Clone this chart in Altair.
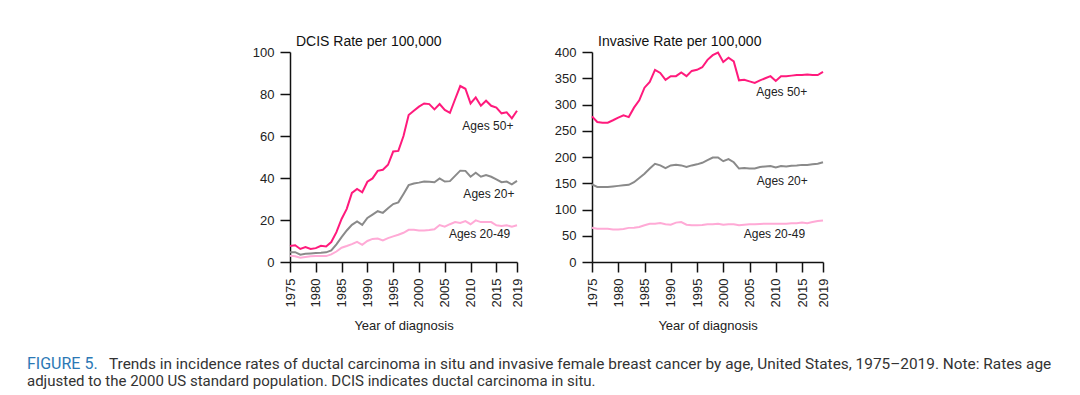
import altair as alt
import pandas as pd

years = list(range(1975, 2020))
groups = ["Ages 20-49", "Ages 20+", "Ages 50+"]

dcis_50 = [7.6, 8.0, 6.2, 7.1, 6.2, 6.6, 7.7, 7.4, 9.5, 14.2,
           20.5, 25.3, 32.9, 34.8, 33.2, 38.2, 39.8, 43.4, 43.9, 46.3,
           52.6, 52.9, 60.0, 70.0, 72.0, 74.0, 75.5, 75.2, 72.7, 75.2,
           72.4, 71.0, 77.5, 83.8, 82.5, 75.5, 78.4, 74.4, 76.8, 74.4,
           73.5, 70.8, 71.3, 68.4, 72.0]
dcis_20 = [4.7, 4.7, 3.5, 3.9, 4.1, 4.3, 4.4, 4.6, 5.5, 8.4,
           11.8, 15.0, 17.7, 19.3, 17.7, 21.0, 22.6, 24.2, 23.4, 25.6,
           27.6, 28.4, 32.4, 36.6, 37.4, 37.8, 38.3, 38.2, 38.0, 39.8,
           38.3, 38.5, 41.0, 43.5, 43.4, 40.6, 42.5, 40.6, 41.4, 40.6,
           39.4, 38.0, 38.3, 37.0, 38.6]
dcis_2049 = [3.0, 2.7, 2.0, 2.4, 2.7, 2.8, 2.8, 2.8, 3.6, 5.0,
             6.8, 7.6, 8.5, 9.6, 8.2, 10.0, 11.0, 11.2, 10.3, 11.4,
             12.2, 13.0, 13.9, 15.3, 15.3, 15.0, 15.0, 15.2, 15.6, 17.6,
             16.8, 18.0, 19.0, 18.6, 19.5, 18.0, 19.8, 19.0, 19.0, 19.0,
             17.5, 17.2, 17.5, 16.8, 17.5]

inv_50 = [277.5, 266.7, 265.4, 265.4, 270, 275, 279.4, 276, 294, 308,
          332, 343, 366, 360, 347, 354, 354, 361, 354, 364,
          366, 371, 385, 394, 399, 381, 389, 382, 346, 347,
          344, 341, 346, 350, 354, 345, 354, 354, 355, 356,
          356, 357, 356, 356, 362]
inv_20 = [148, 143, 143, 143, 144, 145, 146, 147, 152, 160,
          168, 178, 187, 184, 179, 184, 185, 184, 181, 184,
          186, 189, 194, 199, 199, 192, 196, 190, 178, 179,
          178, 178, 181, 182, 183, 180, 183, 182, 183.5, 184,
          185, 185, 186, 187, 190]
inv_2049 = [65.4, 63.5, 63.5, 63.5, 62, 62, 63, 65, 65.4, 66.7,
            70, 73, 73, 74.3, 72, 71, 75, 76, 71, 70,
            70, 70.5, 72, 72, 73, 71, 72, 72, 70, 71,
            72, 72, 72.5, 73, 73, 73, 73, 73, 74, 74,
            75, 74, 76, 78, 79]

x_ticks = [1975, 1980, 1985, 1990, 1995, 2000, 2005, 2010, 2015, 2019]
dcis_ticks = [0, 20, 40, 60, 80, 100]
inv_ticks = [0, 50, 100, 150, 200, 250, 300, 350, 400]

dcis_title = "DCIS Rate per 100,000"
inv_title = "Invasive Rate per 100,000"
x_title = "Year of diagnosis"

# label annotations: text, year, value
dcis_lab_text = ["Ages 50+", "Ages 20+", "Ages 20-49"]
dcis_lab_x = [2018.3, 2018.5, 2017.7]
dcis_lab_y = [64.8, 32.4, 13.3]
inv_lab_text = ["Ages 50+", "Ages 20+", "Ages 20-49"]
inv_lab_x = [2016.0, 2016.1, 2015.6]
inv_lab_y = [324, 155, 53]

caption_head = "FIGURE 5."
caption_line1 = ("Trends in incidence rates of ductal carcinoma in situ and invasive female breast cancer "
                 "by age, United States, 1975\u20132019. Note: Rates age")
caption_line2 = "adjusted to the 2000 US standard population. DCIS indicates ductal carcinoma in situ."

colors = ["#ffaad6", "#8a8a8a", "#ff1a7c"]
FONT = "Liberation Sans"


def long_df(s2049, s20, s50):
    rows = []
    for g, s in zip(groups, [s2049, s20, s50]):
        for y, v in zip(years, s):
            rows.append({"year": y, "rate": v, "group": g})
    return pd.DataFrame(rows)


def panel(df, ymax, yticks, title, lt, lx, ly, width):
    xscale = alt.Scale(domain=[1975, 2019], nice=False, zero=False)
    yscale = alt.Scale(domain=[0, ymax], nice=False)
    xaxis = alt.Axis(values=x_ticks, format="d", labelAngle=270,
                     labelOverlap=False, labelFlush=False, labelBound=False,
                     title=x_title, labelPadding=6, titlePadding=13)
    yaxis = alt.Axis(values=yticks, title=None, labelPadding=6,
                     labelOverlap=False, labelFlush=False)
    lines = alt.Chart(df).mark_line(strokeWidth=2).encode(
        x=alt.X("year:Q", scale=xscale, axis=xaxis),
        y=alt.Y("rate:Q", scale=yscale, axis=yaxis),
        color=alt.Color("group:N", scale=alt.Scale(domain=groups, range=colors), legend=None),
    )
    labs = alt.Chart(pd.DataFrame({"t": lt, "x": lx, "y": ly})).mark_text(
        align="right", baseline="middle", fontSize=12, font=FONT, color="#222"
    ).encode(x=alt.X("x:Q", scale=xscale, axis=xaxis),
             y=alt.Y("y:Q", scale=yscale, axis=yaxis), text="t:N")
    return alt.layer(lines, labs).properties(
        width=width, height=210,
        title=alt.TitleParams(title, anchor="start", fontSize=14, font=FONT, frame="group",
                              fontWeight="normal", color="#111", dx=6, offset=-3),
    )


left = panel(long_df(dcis_2049, dcis_20, dcis_50), 100, dcis_ticks, dcis_title,
             dcis_lab_text, dcis_lab_x, dcis_lab_y, 227)
right = panel(long_df(inv_2049, inv_20, inv_50), 400, inv_ticks, inv_title,
              inv_lab_text, inv_lab_x, inv_lab_y, 231)

spacer = alt.Chart(pd.DataFrame({"a": [0]})).mark_text(text="").encode(
    x=alt.value(0), y=alt.value(0)
).properties(width=214, height=10)

top = alt.hconcat(spacer, left, right, spacing=30)

CAPFONT = "Roboto"
cap_a = alt.Chart(pd.DataFrame({"t": [caption_head]})).mark_text(
    align="left", baseline="middle", fontSize=16, font=CAPFONT, color="#2b78b5"
).encode(x=alt.value(19), y=alt.value(8), text="t:N")
cap_b = alt.Chart(pd.DataFrame({"t": [caption_line1]})).mark_text(
    align="left", baseline="middle", fontSize=15.4, font=CAPFONT, color="#333"
).encode(x=alt.value(101), y=alt.value(8), text="t:N")
cap_c = alt.Chart(pd.DataFrame({"t": [caption_line2]})).mark_text(
    align="left", baseline="middle", fontSize=15, font=CAPFONT, color="#333"
).encode(x=alt.value(19), y=alt.value(25), text="t:N")
caption = alt.layer(cap_a, cap_b, cap_c).properties(width=1060, height=28)

chart = alt.vconcat(top, caption, spacing=23).properties(
    padding={"left": 0, "right": 0, "top": 27, "bottom": 0},
    background="white",
).configure_view(stroke=None).configure_axis(
    domainColor="#111", domainWidth=1.5, tickColor="#111", tickWidth=1.5, tickSize=10,
    labelFont=FONT, labelFontSize=13, labelColor="#222", labelOverlap=False,
    titleFont=FONT, titleFontSize=13, titleFontWeight="normal", titleColor="#222",
    grid=False,
)

chart.save("out.html", embed_options={"renderer": "svg", "actions": False})
